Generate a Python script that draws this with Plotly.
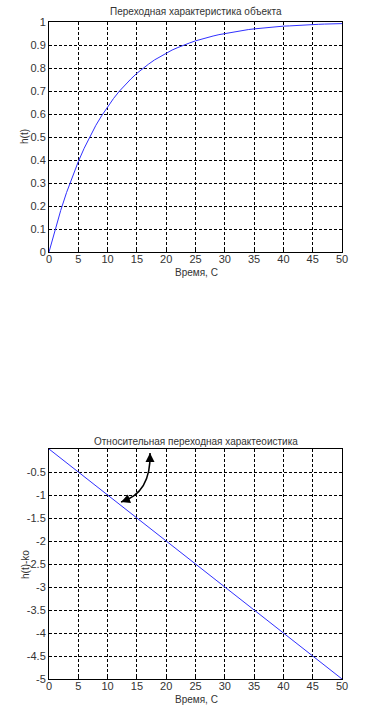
import plotly.graph_objects as go

# ---- data ----
t_top = list(range(0, 51))
h_top = [0, 0.095, 0.181, 0.259, 0.330, 0.393, 0.451, 0.503, 0.551, 0.593,
         0.632, 0.667, 0.699, 0.727, 0.753, 0.777, 0.798, 0.817, 0.835, 0.850,
         0.865, 0.878, 0.889, 0.900, 0.909, 0.918, 0.926, 0.933, 0.939, 0.945,
         0.950, 0.955, 0.959, 0.963, 0.967, 0.970, 0.973, 0.975, 0.978, 0.980,
         0.982, 0.983, 0.985, 0.986, 0.988, 0.989, 0.990, 0.991, 0.992, 0.993,
         0.993]
t_bot = [0, 5, 10, 15, 20, 25, 30, 35, 40, 45, 50]
h_bot = [0, -0.5, -1.0, -1.5, -2.0, -2.5, -3.0, -3.5, -4.0, -4.5, -5.0]

x_ticks = [0, 5, 10, 15, 20, 25, 30, 35, 40, 45, 50]
y_top_ticks = [0, 0.1, 0.2, 0.3, 0.4, 0.5, 0.6, 0.7, 0.8, 0.9, 1]
y_top_labels = ["0", "0.1", "0.2", "0.3", "0.4", "0.5", "0.6", "0.7", "0.8", "0.9", "1"]
y_bot_ticks = [-5, -4.5, -4, -3.5, -3, -2.5, -2, -1.5, -1, -0.5]
y_bot_labels = ["-5", "-4.5", "-4", "-3.5", "-3", "-2.5", "-2", "-1.5", "-1", "-0.5"]

title_top = "Переходная характеристика объекта"
title_bot = "Относительная переходная характеоистика"
xlabel = "Время, С"
ylabel_top = "h(t)"
ylabel_bot = "h(t)-ko"

# arrow annotation (data coords of lower plot)
arrow_start = (17.24, -0.087)
arrow_ctrl = (17.45, -0.96)
arrow_end = (12.29, -1.152)

W, H = 378, 711
L, R = 49, 342
T, B = 22, 679
top_y0, top_y1 = 22, 252
bot_y0, bot_y1 = 449, 679
PH = B - T
PW = R - L

def yfrac(py):
    return 1 - (py - T) / PH

def xfrac(px):
    return (px - L) / PW

FONT = "Liberation Sans, Arial, sans-serif"
TXT = "#333333"

fig = go.Figure()
fig.add_trace(go.Scatter(x=t_top, y=h_top, mode="lines",
                         line=dict(color="#3030ff", width=1), xaxis="x", yaxis="y",
                         showlegend=False, hoverinfo="skip"))
fig.add_trace(go.Scatter(x=t_bot, y=h_bot, mode="lines",
                         line=dict(color="#3030ff", width=1), xaxis="x2", yaxis="y2",
                         showlegend=False, hoverinfo="skip"))

grid = dict(showgrid=True, gridcolor="black", gridwidth=1, griddash="3px,2px",
            showline=True, linecolor="black", linewidth=1, mirror=True,
            ticks="inside", ticklen=3, tickcolor="black", zeroline=False,
            automargin=False,
            tickfont=dict(family=FONT, size=11, color=TXT))

fig.update_layout(
    width=W, height=H,
    margin=dict(l=L, r=W - R, t=T, b=H - B, autoexpand=False),
    paper_bgcolor="white", plot_bgcolor="white",
    font=dict(family=FONT, size=11, color=TXT),
    xaxis=dict(domain=[0, 1], range=[0, 50], tickvals=x_ticks, anchor="y",
               ticklabelstandoff=-3, **grid),
    yaxis=dict(domain=[yfrac(top_y1), yfrac(top_y0)], range=[0, 1],
               tickvals=y_top_ticks, ticktext=y_top_labels, anchor="x", **grid),
    xaxis2=dict(domain=[0, 1], range=[0, 50], tickvals=x_ticks, anchor="y2",
                ticklabelstandoff=-3, **grid),
    yaxis2=dict(domain=[yfrac(bot_y1), yfrac(bot_y0)], range=[-5, 0],
                tickvals=y_bot_ticks, ticktext=y_bot_labels, anchor="x2", **grid),
)

def label(text, px, py, angle=0):
    fig.add_annotation(text=text, xref="paper", yref="paper",
                       x=xfrac(px), y=yfrac(py), showarrow=False, textangle=angle,
                       xanchor="center", yanchor="middle", font=dict(size=10, color=TXT))

label(title_top, 196, 12)
label(title_bot, 196, 441)
label(xlabel, 196, 272)
label(xlabel, 196, 699)
label(ylabel_top, 25, 137, -90)
label(ylabel_bot, 25, 565, -90)

# small blank patch hiding grid (as in original)
fig.add_shape(type="rect", xref="x2", yref="y2", x0=17.3, x1=22.0, y0=-0.93, y1=-1.07,
              fillcolor="white", line=dict(width=0), layer="below")

# curved double arrow
fig.add_shape(type="path", xref="x2", yref="y2",
              path=f"M {arrow_start[0]},{arrow_start[1]} Q {arrow_ctrl[0]},{arrow_ctrl[1]} {arrow_end[0]},{arrow_end[1]}",
              line=dict(color="black", width=1.5))
fig.add_annotation(x=arrow_start[0], y=arrow_start[1], xref="x2", yref="y2",
                   ax=0, ay=9, text="", showarrow=True, arrowhead=2, arrowsize=1.2,
                   arrowwidth=1.5, arrowcolor="black", standoff=0)
fig.add_annotation(x=arrow_end[0], y=arrow_end[1], xref="x2", yref="y2",
                   ax=8, ay=-3, text="", showarrow=True, arrowhead=2, arrowsize=1.2,
                   arrowwidth=1.5, arrowcolor="black", standoff=0)

fig.write_html("out.html", config={"displayModeBar": False},
               post_script="document.body.style.margin='0';")
